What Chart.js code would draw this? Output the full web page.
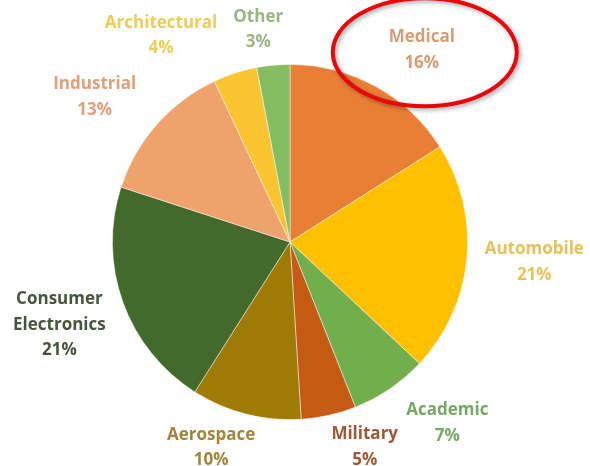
<!DOCTYPE html>
<html>
<head>
<meta charset="utf-8">
<script src="https://cdn.jsdelivr.net/npm/chart.js@4"></script>
<style>
  html, body { margin: 0; padding: 0; background: #ffffff; }
  #wrap { width: 590px; height: 466px; position: relative; }
</style>
</head>
<body>
<div id="wrap"><canvas id="c" width="590" height="466"></canvas></div>
<script>
// ---- data ----
const categories = ["Medical", "Automobile", "Academic", "Military", "Aerospace", "Consumer Electronics", "Industrial", "Architectural", "Other"];
const labelLines = [["Medical"], ["Automobile"], ["Academic"], ["Military"], ["Aerospace"], ["Consumer", "Electronics"], ["Industrial"], ["Architectural"], ["Other"]];
const shares = [16, 21, 7, 5, 10, 21, 13, 4, 3];
const highlighted = "Medical";

// ---- styles ----
const sliceColors = ["#E97F35", "#FFC000", "#72AF4C", "#C45A14", "#9E7B04", "#436A2A", "#F0A26C", "#FAC531", "#85BD62"];
const textColors = ["#D49E74", "#E6C25A", "#78A964", "#A05638", "#A4843A", "#46563C", "#E0A07A", "#EECC58", "#96B684"];
// label placement: [angle shift (deg) from slice middle, distance as fraction of radius]
const labelPlace = [[5.7, 1.31], [-0.7, 1.38], [-6.8, 1.35], [-7.4, 1.23], [6.6, 1.24], [0, 1.38], [-4.8, 1.37], [-14, 1.37], [-3.1, 1.21]];

const labelPlugin = {
  id: 'outLabels',
  afterDraw(chart) {
    const ctx = chart.ctx;
    const meta = chart.getDatasetMeta(0);
    const total = shares.reduce((a, b) => a + b, 0);
    ctx.save();
    ctx.font = "bold 17px 'Open Sans', sans-serif";
    ctx.textAlign = 'center';
    ctx.textBaseline = 'middle';
    meta.data.forEach((arc, i) => {
      const p = arc.getProps(['x', 'y', 'startAngle', 'endAngle', 'outerRadius'], true);
      const mid = (p.startAngle + p.endAngle) / 2 + labelPlace[i][0] * Math.PI / 180;
      const d = p.outerRadius * labelPlace[i][1];
      const cx = p.x + Math.cos(mid) * d;
      const cy = p.y + Math.sin(mid) * d;
      const lines = labelLines[i].concat([Math.round(shares[i] / total * 100) + "%"]);
      const lh = 25.5;
      const y0 = cy - (lines.length - 1) * lh / 2;
      ctx.fillStyle = textColors[i];
      lines.forEach((t, k) => ctx.fillText(t, cx, y0 + k * lh));
      if (categories[i] === highlighted) {
        ctx.save();
        ctx.shadowColor = 'rgba(0,0,0,0.35)';
        ctx.shadowBlur = 4;
        ctx.shadowOffsetX = 2;
        ctx.shadowOffsetY = 2;
        ctx.strokeStyle = '#E8060A';
        ctx.lineWidth = 4;
        ctx.beginPath();
        ctx.ellipse(cx + 3, cy + 2, 92, 54, 0, 0, Math.PI * 2);
        ctx.stroke();
        ctx.restore();
      }
    });
    ctx.restore();
  }
};

new Chart(document.getElementById('c'), {
  type: 'pie',
  data: {
    labels: categories,
    datasets: [{
      data: shares,
      backgroundColor: sliceColors,
      borderColor: 'rgba(255,255,255,0.6)',
      borderWidth: 0.8
    }]
  },
  options: {
    responsive: false,
    animation: false,
    layout: { padding: { top: 64, bottom: 46, left: 100, right: 110 } },
    plugins: {
      legend: { display: false },
      tooltip: { enabled: false },
      title: { display: false }
    }
  },
  plugins: [labelPlugin]
});
</script>
</body>
</html>
